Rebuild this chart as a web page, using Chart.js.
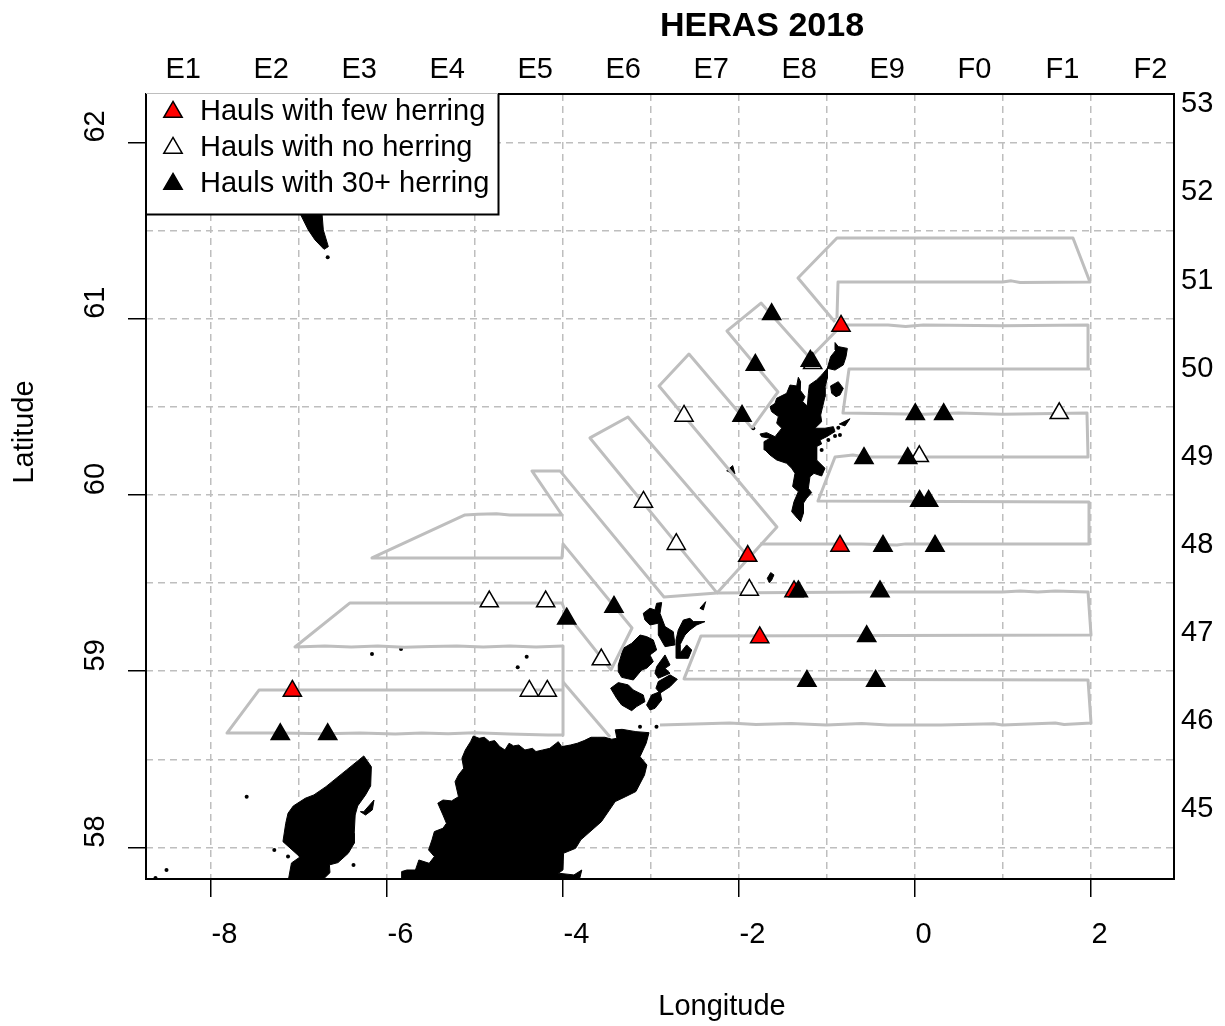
<!DOCTYPE html>
<html>
<head>
<meta charset="utf-8">
<title>HERAS 2018</title>
<script src="https://cdn.jsdelivr.net/npm/chart.js@4"></script>
<style>
  html, body { margin: 0; padding: 0; background: #fff; }
  canvas { display: block; }
</style>
</head>
<body>
<canvas id="map" width="1225" height="1026"></canvas>
<script>
// axes
const minLon = -8.733, maxLon = 2.949, minLat = 57.821, maxLat = 62.274;
const lonTicks = [-8, -6, -4, -2, 0, 2];
const latTicks = [58, 59, 60, 61, 62];
const lonGrid = [-8, -7, -6, -5, -4, -3, -2, -1, 0, 1, 2];
const latGrid = [58, 58.5, 59, 59.5, 60, 60.5, 61, 61.5, 62];
const rectLons = [-8.5, -7.5, -6.5, -5.5, -4.5, -3.5, -2.5, -1.5, -0.5, 0.5, 1.5, 2.5];
const rectCols = ['E1', 'E2', 'E3', 'E4', 'E5', 'E6', 'E7', 'E8', 'E9', 'F0', 'F1', 'F2'];
const rectLats = [62.25, 61.75, 61.25, 60.75, 60.25, 59.75, 59.25, 58.75, 58.25];
const rectRows = ['53', '52', '51', '50', '49', '48', '47', '46', '45'];

// hauls
const fewLon = [-0.835, -1.895, -0.847, -1.369, -1.759, -7.070];
const fewLat = [60.958, 59.653, 59.710, 59.452, 59.191, 58.888];
const noneLon = [-1.157, 1.645, -2.619, 0.055, -2.707, -3.080, -1.877, -4.832, -4.191, -3.559, -4.377, -4.173];
const noneLat = [60.746, 60.463, 60.448, 60.219, 59.720, 59.960, 59.461, 59.395, 59.395, 59.066, 58.888, 58.888];
const manyLon = [-1.623, -1.809, -1.184, -1.960, 0.009, 0.332, -0.574, -0.077, 0.059, 0.161, -0.358, 0.233, -1.320, -0.392, -0.543, -1.222, -0.441, -7.207, -6.668, -3.952, -3.415];
const manyLat = [61.024, 60.737, 60.760, 60.448, 60.457, 60.457, 60.208, 60.208, 59.965, 59.965, 59.710, 59.710, 59.452, 59.452, 59.198, 58.944, 58.944, 58.642, 58.642, 59.298, 59.364];

// survey tracks, [lon, lat]
const trackWest = [[-3.994,59.143],[-3.994,58.638],[-4.165,58.638],[-4.6,58.643],[-5,58.651],[-5.3,58.645],[-5.6,58.649],[-5.9,58.643],[-6.3,58.649],[-6.7,58.645],[-7.2,58.649],[-7.813,58.649],[-7.449,58.893],[-3.994,58.893]];
const trackWest2 = [[-3.994,59.143],[-4.3,59.137],[-4.6,59.143],[-4.9,59.137],[-5.2,59.143],[-5.5,59.14],[-5.8,59.135],[-6.1,59.143],[-6.4,59.137],[-6.7,59.143],[-7.04,59.137],[-6.415,59.387],[-4.006,59.387],[-3.96,59.33],[-3.449,59.007],[-3.21,59.245],[-3.994,59.722],[-4.006,59.642],[-6.165,59.642],[-5.108,59.886],[-4.96,59.89],[-4.75,59.893],[-4.6,59.886],[-4.006,59.886],[-4.347,60.136],[-4.028,60.136],[-2.847,59.421],[-2.244,59.444],[-3.688,60.323],[-3.256,60.442],[-1.926,59.670]];
const trackMid = [[-2.244,59.444],[-1.563,59.818],[-2.903,60.618],[-2.563,60.799],[-1.847,60.379]];
const trackEast = [[-2.244,59.444],[-0.5,59.449],[1.0,59.449],[1.2,59.455],[1.4,59.449],[1.6,59.455],[1.972,59.449],[2.006,59.205],[-2.426,59.2],[-2.619,58.956],[1.972,58.95],[2.006,58.706],[1.7,58.697],[1.6,58.706],[1.0,58.695],[0.9,58.702],[0.3,58.695],[-0.3,58.695],[-0.6,58.703],[-1.0,58.695],[-1.4,58.703],[-1.8,58.697],[-2.1,58.706],[-2.892,58.695]];
const trackCoast = [[-3.994,58.939],[-3.46,58.627]];
const trackEast2 = [[-1.756,59.722],[-0.6,59.722],[-0.2,59.716],[-0.1,59.722],[1.972,59.722],[1.983,59.96],[-1.097,59.965],[-0.903,60.215],[-0.7,60.226],[-0.55,60.215],[1.972,60.215],[1.96,60.465],[1.0,60.458],[0.5,60.465],[0.1,60.458],[-0.813,60.465],[-0.744,60.714],[1.983,60.714],[1.972,60.964],[1.0,60.96],[0.1,60.964],[-0.1,60.955],[-0.3,60.964],[-0.824,60.964]];
const trackNorth = [[-0.881,61.003],[-0.869,61.208],[1.0,61.208],[1.1,61.214],[1.2,61.205],[1.994,61.208],[1.801,61.457],[-0.881,61.457],[-1.324,61.23],[-0.903,60.981]];
const trackNorthWest = [[-0.824,60.964],[-1.188,60.777],[-1.744,61.088],[-2.131,60.93],[-1.551,60.584],[-1.847,60.379]];
const tracks = [trackWest, trackWest2, trackMid, trackEast, trackCoast, trackEast2, trackNorth, trackNorthWest];

// land, [lon, lat]
const lewis = [[-6.258,58.519],[-6.172,58.458],[-6.180,58.349],[-6.238,58.298],[-6.328,58.235],[-6.356,58.184],[-6.367,58.081],[-6.367,58.024],[-6.434,57.967],[-6.551,57.914],[-6.649,57.901],[-6.642,57.857],[-6.747,57.806],[-7.119,57.806],[-7.080,57.912],[-6.983,57.946],[-7.177,58.033],[-7.145,58.137],[-7.119,58.194],[-7.060,58.235],[-6.923,58.279],[-6.825,58.298],[-6.688,58.345],[-6.453,58.440]];
const lewisEast = [[-6.258,58.203],[-6.142,58.269],[-6.161,58.213],[-6.238,58.184],[-6.297,58.203]];
const scotland = [[-5.014,58.632],[-4.947,58.619],[-4.889,58.625],[-4.830,58.600],[-4.771,58.606],[-4.713,58.572],[-4.654,58.553],[-4.607,58.591],[-4.556,58.576],[-4.497,58.581],[-4.427,58.553],[-4.341,58.562],[-4.302,58.544],[-4.224,58.553],[-4.145,58.562],[-4.048,58.600],[-4.008,58.572],[-3.910,58.581],[-3.832,58.591],[-3.754,58.606],[-3.676,58.625],[-3.597,58.625],[-3.519,58.625],[-3.440,58.614],[-3.382,58.619],[-3.401,58.667],[-3.323,58.670],[-3.166,58.657],[-3.017,58.651],[-3.049,58.591],[-3.119,58.515],[-3.041,58.468],[-3.068,58.411],[-3.166,58.317],[-3.284,58.288],[-3.401,58.260],[-3.558,58.146],[-3.792,58.043],[-3.851,57.995],[-3.988,57.967],[-3.995,57.872],[-4.047,57.854],[-3.870,57.844],[-3.781,57.872],[-3.813,57.806],[-5.828,57.806],[-5.828,57.863],[-5.769,57.872],[-5.671,57.872],[-5.632,57.929],[-5.515,57.910],[-5.456,57.948],[-5.522,57.986],[-5.483,58.043],[-5.456,58.090],[-5.358,58.109],[-5.319,58.137],[-5.358,58.184],[-5.417,58.251],[-5.358,58.269],[-5.260,58.264],[-5.182,58.288],[-5.221,58.373],[-5.182,58.411],[-5.123,58.449],[-5.143,58.506],[-5.104,58.553],[-5.045,58.600]];
const orkneyMain = [[-3.366,59.035],[-3.309,59.130],[-3.214,59.158],[-3.119,59.205],[-3.044,59.196],[-2.968,59.177],[-2.930,59.120],[-3.006,59.092],[-2.968,59.054],[-3.044,59.016],[-3.100,59.007],[-3.195,58.950],[-3.328,58.965],[-3.366,58.997]];
const hoy = [[-3.453,58.903],[-3.366,58.935],[-3.252,58.922],[-3.195,58.893],[-3.082,58.865],[-3.063,58.827],[-3.157,58.799],[-3.214,58.776],[-3.328,58.808],[-3.385,58.846]];
const ronaldsay = [[-3.044,58.808],[-2.987,58.865],[-2.892,58.884],[-2.873,58.837],[-2.949,58.789],[-3.006,58.780]];
const orkneyMid = [[-2.930,59.026],[-2.835,59.092],[-2.778,59.035],[-2.835,59.016],[-2.778,58.988],[-2.911,58.960],[-2.949,58.988]];
const orkneySouth = [[-2.911,58.941],[-2.778,58.979],[-2.695,58.954],[-2.778,58.912],[-2.892,58.875],[-2.938,58.903]];
const orkneyNorth = [[-3.082,59.328],[-3.006,59.357],[-2.949,59.347],[-2.930,59.385],[-2.873,59.389],[-2.892,59.328],[-2.835,59.253],[-2.741,59.224],[-2.722,59.149],[-2.835,59.139],[-2.911,59.205],[-2.911,59.272],[-3.006,59.262],[-3.063,59.290]];
const orkneyEast = [[-2.710,59.177],[-2.684,59.234],[-2.627,59.290],[-2.551,59.300],[-2.513,59.281],[-2.381,59.281],[-2.475,59.262],[-2.551,59.234],[-2.608,59.205],[-2.665,59.149],[-2.665,59.101],[-2.589,59.149],[-2.532,59.120],[-2.570,59.073],[-2.703,59.073]];
const papa = [[-2.438,59.357],[-2.373,59.394],[-2.400,59.347]];
const shetland = [[-1.320,60.667],[-1.294,60.642],[-1.301,60.595],[-1.244,60.557],[-1.271,60.529],[-1.218,60.504],[-1.206,60.576],[-1.195,60.623],[-1.112,60.652],[-1.055,60.680],[-0.991,60.718],[-0.991,60.661],[-1.017,60.610],[-1.017,60.557],[-1.044,60.500],[-1.066,60.453],[-1.055,60.415],[-1.131,60.378],[-1.017,60.378],[-0.922,60.387],[-0.903,60.359],[-0.998,60.330],[-1.074,60.311],[-1.055,60.289],[-1.112,60.274],[-1.112,60.198],[-1.017,60.151],[-1.055,60.107],[-1.142,60.122],[-1.188,60.103],[-1.206,60.037],[-1.169,60.013],[-1.225,59.981],[-1.263,59.952],[-1.263,59.895],[-1.294,59.848],[-1.331,59.867],[-1.396,59.905],[-1.369,59.962],[-1.320,60.018],[-1.385,60.047],[-1.358,60.122],[-1.396,60.151],[-1.453,60.179],[-1.566,60.198],[-1.642,60.226],[-1.699,60.255],[-1.710,60.302],[-1.642,60.321],[-1.737,60.330],[-1.756,60.345],[-1.680,60.353],[-1.585,60.330],[-1.509,60.378],[-1.566,60.406],[-1.547,60.444],[-1.623,60.472],[-1.642,60.500],[-1.585,60.519],[-1.566,60.548],[-1.453,60.576],[-1.415,60.623],[-1.339,60.618]];
const unst = [[-0.903,60.864],[-0.866,60.841],[-0.763,60.831],[-0.778,60.784],[-0.809,60.737],[-0.903,60.708],[-0.991,60.718],[-0.953,60.784],[-0.892,60.822]];
const fetlar = [[-0.953,60.618],[-0.866,60.642],[-0.809,60.604],[-0.847,60.567],[-0.892,60.557],[-0.941,60.576]];
const whalsay = [[-0.854,60.402],[-0.733,60.432],[-0.790,60.391]];
const foula = [[-2.134,60.137],[-2.066,60.166],[-2.040,60.119],[-2.077,60.123]];
const fairIsle = [[-1.673,59.527],[-1.634,59.559],[-1.597,59.546],[-1.623,59.517],[-1.650,59.502]];
const faroe = [[-7.002,61.616],[-6.736,61.616],[-6.718,61.503],[-6.661,61.408],[-6.710,61.393],[-6.812,61.446],[-6.889,61.503]];
const land = [lewis, lewisEast, scotland, orkneyMain, hoy, ronaldsay, orkneyMid, orkneySouth, orkneyNorth, orkneyEast, papa, shetland, unst, fetlar, whalsay, foula, fairIsle, faroe];
const isletLon = [-7.589, -8.500, -8.625, -7.275, -7.119, -6.375, -6.165, -5.835, -4.407, -4.509, -1.832, -0.866, -0.903, -0.847, -0.979, -1.055, -2.932, -3.119, -6.668];
const isletLat = [58.288, 57.872, 57.827, 57.986, 57.948, 57.901, 59.098, 59.126, 59.082, 59.022, 60.378, 60.381, 60.334, 60.340, 60.311, 60.255, 58.685, 58.685, 61.348];

const zip = (xs, ys) => xs.map((x, i) => ({ x, y: ys[i] }));
const toPts = arr => arr.map(p => ({ x: p[0], y: p[1] }));
const setTicks = vals => s => { s.ticks = vals.map(value => ({ value })); };
const fixW = w => s => { s.width = w; };
const fixH = h => s => { s.height = h; };
const marker = (label, data, color, order) => ({
  label, data, order, showLine: false, pointStyle: 'triangle', pointRadius: 10.5,
  backgroundColor: color, borderColor: '#000', borderWidth: 1.5
});

const datasets = [
  marker('Hauls with few herring', zip(fewLon, fewLat), '#ff0000', 1),
  marker('Hauls with no herring', zip(noneLon, noneLat), '#ffffff', 2),
  marker('Hauls with 30+ herring', zip(manyLon, manyLat), '#000000', 0)
];
tracks.forEach(t => datasets.push({ label: '', data: toPts(t), order: 3, showLine: true, pointRadius: 0, borderColor: '#bebebe', borderWidth: 3, borderJoinStyle: 'round', fill: false }));
land.forEach(p => datasets.push({ label: '', data: toPts(p.concat([p[0]])), order: 4, showLine: true, pointRadius: 0, borderColor: '#000', backgroundColor: '#000', borderWidth: 1, fill: 'shape' }));
datasets.push({ label: '', data: zip(isletLon, isletLat), order: 4, showLine: false, pointRadius: 2, pointStyle: 'circle', backgroundColor: '#000', borderColor: '#000', borderWidth: 0 });

// legend sits inside the plot on a white box, titles are off-centre in the original
const mapLayout = {
  id: 'mapLayout',
  afterLayout(chart) {
    const t = chart.titleBlock; t.left = 350; t.right = 1174;
    const xt = chart.scales.xTitle; xt.left = 322; xt.right = 1122;
    const yt = chart.scales.yTitle; yt.top = 32; yt.bottom = 832;
    const l = chart.legend; l.left = 153.5; l.top = 90.5; l.right = 498; l.bottom = 215;
  },
  afterDraw(chart) {
    const ctx = chart.ctx;
    ctx.save();
    ctx.fillStyle = '#fff';
    ctx.fillRect(147, 92, 351, 122);
    ctx.strokeStyle = '#000'; ctx.lineWidth = 2;
    ctx.beginPath(); ctx.moveTo(146, 214.5); ctx.lineTo(498.5, 214.5); ctx.lineTo(498.5, 94); ctx.stroke();
    ctx.strokeStyle = '#bebebe'; ctx.lineWidth = 1;
    ctx.beginPath(); ctx.moveTo(146, 93.5); ctx.lineTo(498, 93.5); ctx.stroke();
    ctx.restore();
    chart.legend.draw();
  }
};

Chart.defaults.font.family = '"Liberation Sans", Arial, sans-serif';
Chart.defaults.font.size = 29;
Chart.defaults.color = '#000';

const dash = { color: '#bebebe', lineWidth: 1.5, drawTicks: false };
const frame = { display: true, color: '#000', width: 2 };
const tickMarks = { drawOnChartArea: false, tickLength: 18, tickColor: '#000', tickWidth: 1.5, color: '#000', lineWidth: 1.5 };

new Chart(document.getElementById('map'), {
  type: 'scatter',
  data: { datasets },
  plugins: [mapLayout],
  options: {
    responsive: false, animation: false, events: [],
    layout: { padding: 0 },
    plugins: {
      tooltip: { enabled: false },
      title: { display: true, text: 'HERAS 2018', color: '#000', font: { size: 34, weight: 'bold' }, padding: { top: 6, bottom: 0 } },
      legend: {
        position: 'chartArea', align: 'start',
        labels: {
          usePointStyle: true, boxWidth: 25, boxHeight: 15, padding: 7, color: '#000', font: { size: 29 },
          filter: item => !!item.text,
          sort: (a, b) => a.datasetIndex - b.datasetIndex
        }
      }
    },
    scales: {
      x: {
        type: 'linear', position: 'bottom', min: minLon, max: maxLon, weight: 0,
        afterBuildTicks: setTicks(lonTicks), afterFit: fixH(90),
        grid: tickMarks, border: frame,
        ticks: { autoSkip: false, maxRotation: 0, minRotation: 0, align: 'start', labelOffset: 1, padding: 21, callback: v => String(v) }
      },
      xGrid: {
        type: 'linear', axis: 'x', position: 'bottom', min: minLon, max: maxLon, weight: -1,
        afterBuildTicks: setTicks(lonGrid), afterFit: fixH(0),
        grid: dash, border: { display: false, dash: [7, 5] },
        ticks: { display: false, autoSkip: false }
      },
      xTitle: {
        type: 'linear', axis: 'x', position: 'bottom', min: minLon, max: maxLon, weight: 1,
        afterFit: fixH(57),
        grid: { display: false }, border: { display: false },
        ticks: { display: false },
        title: { display: true, text: 'Longitude', color: '#000', font: { size: 29 }, padding: { top: 0, bottom: 2 } }
      },
      xTop: {
        type: 'linear', axis: 'x', position: 'top', min: minLon, max: maxLon,
        afterBuildTicks: setTicks(rectLons), afterFit: fixH(47.2),
        grid: { display: false, drawTicks: false }, border: frame,
        ticks: { autoSkip: false, maxRotation: 0, minRotation: 0, align: 'start', labelOffset: -1, padding: 7, callback: v => rectCols[rectLons.indexOf(v)] }
      },
      y: {
        type: 'linear', position: 'left', min: minLat, max: maxLat, weight: 0,
        afterBuildTicks: setTicks(latTicks), afterFit: fixW(102),
        grid: tickMarks, border: frame,
        ticks: { autoSkip: false, minRotation: 90, maxRotation: 90, labelOffset: -32, padding: 32, callback: v => String(v) }
      },
      yGrid: {
        type: 'linear', axis: 'y', position: 'left', min: minLat, max: maxLat, weight: -1,
        afterBuildTicks: setTicks(latGrid), afterFit: fixW(0),
        grid: dash, border: { display: false, dash: [7, 5] },
        ticks: { display: false, autoSkip: false }
      },
      yTitle: {
        type: 'linear', axis: 'y', position: 'left', min: minLat, max: maxLat, weight: 1,
        afterFit: fixW(44),
        grid: { display: false }, border: { display: false },
        ticks: { display: false },
        title: { display: true, text: 'Latitude', color: '#000', font: { size: 29 }, padding: { top: 8, bottom: 0 } }
      },
      yRight: {
        type: 'linear', axis: 'y', position: 'right', min: minLat, max: maxLat,
        afterBuildTicks: setTicks(rectLats), afterFit: fixW(51),
        grid: { display: false, drawTicks: false }, border: frame,
        ticks: { autoSkip: false, labelOffset: 6, padding: 7, callback: v => rectRows[rectLats.indexOf(v)] }
      }
    }
  }
});
</script>
</body>
</html>
